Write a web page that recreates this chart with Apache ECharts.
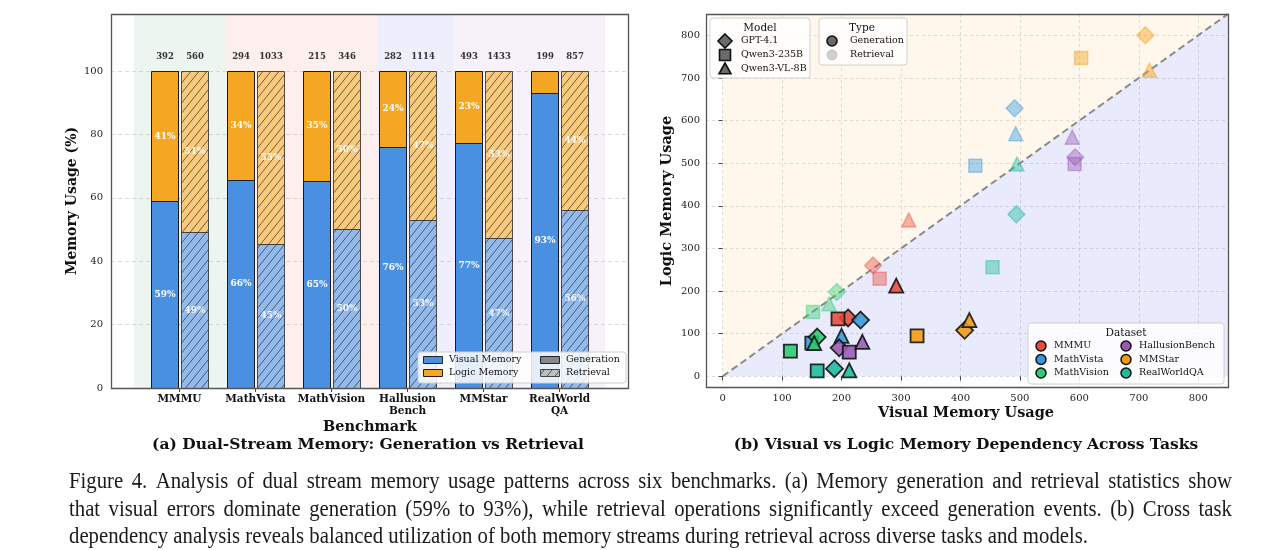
<!DOCTYPE html>
<html>
<head>
<meta charset="utf-8">
<script src="https://cdn.jsdelivr.net/npm/echarts@6.0.0/dist/echarts.min.js"></script>
<style>
  html, body { margin: 0; padding: 0; background: #fff; }
  #chart { width: 1280px; height: 550px; }
</style>
</head>
<body>
<div id="chart"></div>
<script>
// ---------- data: (a) dual-stream memory ----------
const benchmarks = ['MMMU', 'MathVista', 'MathVision', 'Hallusion\nBench', 'MMStar', 'RealWorld\nQA'];
const genVisualPct = [58.9, 65.6, 65.3, 76.0, 77.3, 93.0];   // generation, visual share
const retVisualPct = [49.1, 45.4, 50.1, 53.0, 47.2, 56.2];   // retrieval, visual share
const genCounts = [392, 294, 215, 282, 493, 199];
const retCounts = [560, 1033, 346, 1114, 1433, 857];
const regionSpans = [[-0.6, 0.6], [0.6, 2.6], [2.6, 3.6], [3.6, 5.6]];
const pctTicks = [0, 20, 40, 60, 80, 100];

// ---------- data: (b) visual vs logic ----------
const models = ['GPT-4.1', 'Qwen3-235B', 'Qwen3-VL-8B'];
const datasets = ['MMMU', 'MathVista', 'MathVision', 'HallusionBench', 'MMStar', 'RealWorldQA'];
// rows = datasets, cols = [GPT-4.1, Qwen3-235B, Qwen3-VL-8B]
const genVisual = [[211, 194, 292], [232, 150, 200], [159, 114, 154], [196, 213, 235], [407, 327, 415], [188, 159, 213]];
const genLogic  = [[137, 135, 213], [132, 78, 95],   [92, 59, 78],    [67, 57, 81],    [108, 95, 132],  [18, 13, 14]];
const retVisual = [[253, 264, 313], [491, 425, 493], [192, 152, 179], [593, 592, 588], [711, 603, 718], [494, 454, 495]];
const retLogic  = [[260, 229, 367], [629, 494, 569], [198, 151, 170], [514, 498, 561], [800, 747, 718], [380, 256, 498]];
const usageTicks = [0, 100, 200, 300, 400, 500, 600, 700, 800];

const captionLines = [
  'Figure 4.  Analysis of dual stream memory usage patterns across six benchmarks.  (a) Memory generation and retrieval statistics show',
  'that visual errors dominate generation (59% to 93%), while retrieval operations significantly exceed generation events.  (b) Cross task',
  'dependency analysis reveals balanced utilization of both memory streams during retrieval across diverse tasks and models.'
];

// ---------- styling ----------
const SERIF = '"DejaVu Serif", serif';
const BLUE = '#4a90e2';
const ORANGE = '#f5a623';
const regionColors = ['rgba(46,139,87,0.085)', 'rgba(231,76,60,0.09)', 'rgba(90,90,230,0.1)', 'rgba(155,89,182,0.08)'];
const dsColors = ['#e74c3c', '#3498db', '#2ecc71', '#9b59b6', '#f39c12', '#1abc9c'];
const modelSymbols = ['diamond', 'rect', 'triangle'];
const modelSizes = [17, 13, 14];
const BAR_W = 0.35, BAR_OFF = 0.2;
const LIM = 850;

// grids (pixel layout)
const GA = { left: 111, top: 14, width: 517, height: 374 };
const GB = { left: 706, top: 14, width: 522, height: 373 };

function makeHatch(bg, line) {
  const w = 8, h = 10;
  const c = document.createElement('canvas');
  c.width = w; c.height = h;
  const ctx = c.getContext('2d');
  ctx.fillStyle = bg;
  ctx.fillRect(0, 0, w, h);
  ctx.strokeStyle = line;
  ctx.lineWidth = 0.9;
  ctx.beginPath();
  for (let k = -1; k <= 1; k++) { ctx.moveTo(k * w, h); ctx.lineTo(k * w + w, 0); }
  ctx.stroke();
  return c;
}
const hatchBlue = makeHatch('rgb(146,186,236)', 'rgba(40,40,60,0.75)');
const hatchOrange = makeHatch('rgb(248,202,126)', 'rgba(60,40,20,0.75)');
const hatchGray = makeHatch('rgb(190,190,190)', 'rgba(40,40,40,0.75)');

// ---------- (a) bar rendering ----------
const barData = [];
benchmarks.forEach((b, i) => {
  barData.push([i, genVisualPct[i], 0, genCounts[i]]);
  barData.push([i, retVisualPct[i], 1, retCounts[i]]);
});

function pctText(x, y, v, alpha) {
  return {
    type: 'text', x: x, y: y,
    style: {
      text: Math.round(v) + '%', fill: 'rgba(255,255,255,' + alpha + ')',
      font: 'bold 9px ' + SERIF, align: 'center', verticalAlign: 'middle',
      textAlign: 'center', textVerticalAlign: 'middle'
    }
  };
}

function renderBar(params, api) {
  const i = api.value(0), vis = api.value(1), kind = api.value(2), n = api.value(3);
  const cx = i + (kind === 0 ? -BAR_OFF : BAR_OFF);
  const pBL = api.coord([cx - BAR_W / 2, 0]);
  const pTR = api.coord([cx + BAR_W / 2, 100]);
  const pS = api.coord([cx, vis]);
  const x0 = Math.round(pBL[0]) + 0.5, x1 = Math.round(pTR[0]) + 0.5;
  const yb = Math.round(pBL[1]) + 0.5, yt = Math.round(pTR[1]) + 0.5, ys = Math.round(pS[1]) + 0.5;
  const mx = (x0 + x1) / 2;
  const gen = kind === 0;
  const stroke = gen ? '#1a1a1a' : 'rgba(50,50,50,0.85)';
  const children = [
    { type: 'rect', shape: { x: x0, y: ys, width: x1 - x0, height: yb - ys },
      style: { fill: gen ? BLUE : { image: hatchBlue, repeat: 'repeat' }, stroke: stroke, lineWidth: 1 } },
    { type: 'rect', shape: { x: x0, y: yt, width: x1 - x0, height: ys - yt },
      style: { fill: gen ? ORANGE : { image: hatchOrange, repeat: 'repeat' }, stroke: stroke, lineWidth: 1 } }
  ];
  const a = gen ? 1 : 0.9;
  if (vis >= 10) children.push(pctText(mx, api.coord([cx, vis / 2])[1], vis, a));
  if (100 - vis >= 10) children.push(pctText(mx, api.coord([cx, (vis + 100) / 2])[1], 100 - vis, a));
  const pc = api.coord([cx, 104.6]);
  children.push({
    type: 'text', x: mx, y: pc[1],
    style: { text: String(n), fill: '#333', font: 'bold 8.5px ' + SERIF, align: 'center', verticalAlign: 'middle',
      textAlign: 'center', textVerticalAlign: 'middle' }
  });
  return { type: 'group', children: children };
}

function renderRegion(params, api) {
  const p0 = api.coord([api.value(0), 118]);
  const p1 = api.coord([api.value(1), 0]);
  return { type: 'rect', shape: { x: p0[0], y: p0[1], width: p1[0] - p0[0], height: p1[1] - p0[1] },
    style: { fill: regionColors[api.value(2)] } };
}

function renderHalves(params, api) {
  const lo = api.value(0), hi = api.value(1);
  const a = api.coord([lo, lo]), b = api.coord([lo, hi]), c = api.coord([hi, hi]), d = api.coord([hi, lo]);
  return { type: 'group', children: [
    { type: 'polygon', shape: { points: [a, b, c] }, style: { fill: 'rgba(255,160,40,0.085)' } },
    { type: 'polygon', shape: { points: [a, d, c] }, style: { fill: 'rgba(30,30,235,0.095)' } }
  ] };
}

// ---------- (b) scatter series ----------
const scatterSeries = [];
['ret', 'gen'].forEach(kind => {
  datasets.forEach((ds, d) => {
    const xs = kind === 'gen' ? genVisual[d] : retVisual[d];
    const ys = kind === 'gen' ? genLogic[d] : retLogic[d];
    scatterSeries.push({
      type: 'scatter', name: ds + ' ' + kind, xAxisIndex: 1, yAxisIndex: 1,
      z: kind === 'gen' ? 5 : 4,
      data: models.map((m, k) => ({ value: [xs[k], ys[k]], symbol: modelSymbols[k], symbolSize: modelSizes[k] })),
      itemStyle: kind === 'gen'
        ? { color: dsColors[d], opacity: 0.88, borderColor: '#111', borderWidth: 1.8 }
        : { color: dsColors[d], opacity: 0.42, borderColor: dsColors[d], borderWidth: 1.5 },
      emphasis: { disabled: true }
    });
  });
});

// ---------- graphic helpers ----------
function T(x, y, text, size, o) {
  o = o || {};
  return {
    type: 'text', x: x, y: y, z: 100, silent: true, rotation: o.rotation || 0, scaleX: o.scaleX || 1,
    style: {
      text: text, font: (o.bold ? 'bold ' : '') + size + 'px ' + (o.family || SERIF), fill: o.fill || '#111',
      align: o.align || 'left', verticalAlign: 'middle', textAlign: o.align || 'left', textVerticalAlign: 'middle'
    }
  };
}
function box(x, y, w, h) {
  return { type: 'rect', z: 90, silent: true, shape: { x: x, y: y, width: w, height: h, r: 3 },
    style: { fill: 'rgba(255,255,255,0.85)', stroke: '#d0d0d0', lineWidth: 1 } };
}
function marker(sym, cx, cy, s, fill, stroke, lw) {
  let shape, type;
  if (sym === 'diamond') { type = 'polygon'; shape = { points: [[cx, cy - s], [cx + s, cy], [cx, cy + s], [cx - s, cy]] }; }
  else if (sym === 'rect') { type = 'rect'; shape = { x: cx - s, y: cy - s, width: 2 * s, height: 2 * s }; }
  else if (sym === 'triangle') { type = 'polygon'; shape = { points: [[cx, cy - s], [cx + s, cy + s * 0.8], [cx - s, cy + s * 0.8]] }; }
  else { type = 'circle'; shape = { cx: cx, cy: cy, r: s }; }
  return { type: type, z: 95, silent: true, shape: shape, style: { fill: fill, stroke: stroke, lineWidth: lw } };
}

const graphics = [];
// frames
graphics.push({ type: 'rect', z: 80, silent: true, shape: { x: GA.left + 0.5, y: GA.top + 0.5, width: GA.width, height: GA.height }, style: { fill: 'none', stroke: '#555', lineWidth: 1.3 } });
graphics.push({ type: 'rect', z: 80, silent: true, shape: { x: GB.left + 0.5, y: GB.top + 0.5, width: GB.width, height: GB.height }, style: { fill: 'none', stroke: '#555', lineWidth: 1.3 } });

// (a) legend
graphics.push(box(418, 352, 208, 31));
graphics.push({ type: 'rect', z: 95, silent: true, shape: { x: 423.5, y: 356.5, width: 19, height: 7 }, style: { fill: BLUE, stroke: '#222', lineWidth: 1 } });
graphics.push({ type: 'rect', z: 95, silent: true, shape: { x: 423.5, y: 369.5, width: 19, height: 7 }, style: { fill: ORANGE, stroke: '#222', lineWidth: 1 } });
graphics.push({ type: 'rect', z: 95, silent: true, shape: { x: 540.5, y: 356.5, width: 19, height: 7 }, style: { fill: '#888', stroke: '#222', lineWidth: 1 } });
graphics.push({ type: 'rect', z: 95, silent: true, shape: { x: 540.5, y: 369.5, width: 19, height: 7 }, style: { fill: { image: hatchGray, repeat: 'repeat' }, stroke: '#444', lineWidth: 1 } });
graphics.push(T(449, 360, 'Visual Memory', 9.5));
graphics.push(T(449, 373, 'Logic Memory', 9.5));
graphics.push(T(566, 360, 'Generation', 9.5));
graphics.push(T(566, 373, 'Retrieval', 9.5));

// (a) titles
graphics.push(T(72, 201, 'Memory Usage (%)', 14, { bold: true, align: 'center', rotation: Math.PI / 2 }));
graphics.push(T(370, 427, 'Benchmark', 14.5, { bold: true, align: 'center' }));
graphics.push(T(368, 445, '(a) Dual-Stream Memory: Generation vs Retrieval', 15.5, { bold: true, align: 'center' }));

// (b) titles
graphics.push(T(667, 201, 'Logic Memory Usage', 14.5, { bold: true, align: 'center', rotation: Math.PI / 2 }));
graphics.push(T(966, 413, 'Visual Memory Usage', 14.5, { bold: true, align: 'center' }));
graphics.push(T(966, 445, '(b) Visual vs Logic Memory Dependency Across Tasks', 15.5, { bold: true, align: 'center' }));

// (b) Model legend
graphics.push(box(710, 18, 100, 60));
graphics.push(T(760, 28, 'Model', 10.5, { align: 'center' }));
models.forEach((m, k) => {
  const cy = 41 + k * 14;
  const s = [7, 5.5, 6][k];
  graphics.push(marker(modelSymbols[k], 725, cy, s, '#6b6b6b', '#111', 1.6));
  graphics.push(T(741, cy, m, 9.5));
});
// (b) Type legend
graphics.push(box(819, 18, 88, 47));
graphics.push(T(862, 28, 'Type', 10.5, { align: 'center' }));
graphics.push(marker('circle', 832, 41, 5, '#6b6b6b', '#111', 1.6));
graphics.push(marker('circle', 832, 55, 5, 'rgba(150,150,150,0.45)', 'rgba(150,150,150,0.45)', 1));
graphics.push(T(850, 41, 'Generation', 9.5));
graphics.push(T(850, 55, 'Retrieval', 9.5));
// (b) Dataset legend
graphics.push(box(1028, 323, 196, 61));
graphics.push(T(1126, 333, 'Dataset', 10.5, { align: 'center' }));
datasets.forEach((ds, d) => {
  const col = d < 3 ? 0 : 1;
  const row = d % 3;
  const cx = col === 0 ? 1041 : 1126;
  const cy = 346 + row * 13.5;
  graphics.push(marker('circle', cx, cy, 5, dsColors[d], '#111', 1.5));
  graphics.push(T(cx + 13, cy, ds, 9.5));
});

// caption: condensed Times-like face, justified like the paper text
(function () {
  const ctx = document.createElement('canvas').getContext('2d');
  const fam = '"Liberation Serif", "Times New Roman", serif';
  const fs = 23;
  ctx.font = fs + 'px ' + fam;
  const w3 = ctx.measureText(captionLines[2]).width;
  const sx = 1019 / w3;
  const left = 69, right = 1232, ys = [482, 509.5, 537];
  captionLines.forEach((line, li) => {
    if (li === 2) { graphics.push(T(left, ys[li], line, fs, { family: fam, fill: '#1a1a1a', scaleX: sx })); return; }
    const words = line.split(/\s+/);
    const widths = words.map(w => ctx.measureText(w).width * sx);
    const total = widths.reduce((a, b) => a + b, 0);
    const gap = (right - left - total) / (words.length - 1);
    let x = left;
    words.forEach((w, k) => {
      graphics.push(T(x, ys[li], w, fs, { family: fam, fill: '#1a1a1a', scaleX: sx }));
      x += widths[k] + gap;
    });
  });
})();

// ---------- option ----------
const axisLabelBase = { color: '#222', fontFamily: SERIF, fontSize: 10 };
const option = {
  animation: false,
  textStyle: { fontFamily: SERIF },
  grid: [
    { left: GA.left, top: GA.top, width: GA.width, height: GA.height },
    { left: GB.left, top: GB.top, width: GB.width, height: GB.height }
  ],
  xAxis: [
    {
      gridIndex: 0, type: 'value', min: -0.9, max: 5.9,
      axisLine: { show: false }, splitLine: { show: false },
      axisTick: { show: true, customValues: [0, 1, 2, 3, 4, 5], length: 4, lineStyle: { color: '#444' } },
      axisLabel: Object.assign({}, axisLabelBase, {
        customValues: [0, 1, 2, 3, 4, 5], margin: 5, fontWeight: 'bold', fontSize: 10.5, lineHeight: 12, color: '#111',
        formatter: v => benchmarks[Math.round(v)] || ''
      })
    },
    {
      gridIndex: 1, type: 'value', min: -28, max: LIM, splitNumber: 9,
      axisLine: { show: false },
      axisTick: { show: true, customValues: usageTicks, length: 4, lineStyle: { color: '#444' } },
      axisLabel: Object.assign({}, axisLabelBase, { customValues: usageTicks, margin: 6 }),
      splitLine: { show: true, lineStyle: { color: '#d6d6d6', type: [3, 3], width: 0.8 } }
    }
  ],
  yAxis: [
    {
      gridIndex: 0, type: 'value', min: 0, max: 118, interval: 20,
      axisLine: { show: false },
      axisTick: { show: true, customValues: pctTicks, length: 5, lineStyle: { color: '#444' } },
      axisLabel: Object.assign({}, axisLabelBase, { customValues: pctTicks, margin: 8 }),
      splitLine: { show: true, lineStyle: { color: '#d6d6d6', type: [4, 3], width: 0.8 } }
    },
    {
      gridIndex: 1, type: 'value', min: -25, max: LIM, splitNumber: 9,
      axisLine: { show: false },
      axisTick: { show: true, customValues: usageTicks, length: 4, lineStyle: { color: '#444' } },
      axisLabel: Object.assign({}, axisLabelBase, { customValues: usageTicks, margin: 6 }),
      splitLine: { show: true, lineStyle: { color: '#d6d6d6', type: [3, 3], width: 0.8 } }
    }
  ],
  series: [
    { type: 'custom', name: 'regions', xAxisIndex: 0, yAxisIndex: 0, z: 1, silent: true,
      renderItem: renderRegion, data: regionSpans.map((s, k) => [s[0], s[1], k]) },
    { type: 'custom', name: 'bars', xAxisIndex: 0, yAxisIndex: 0, z: 3, silent: true,
      renderItem: renderBar, data: barData },
    { type: 'custom', name: 'halves', xAxisIndex: 1, yAxisIndex: 1, z: 1, silent: true,
      renderItem: renderHalves, data: [[0, LIM]] },
    { type: 'line', name: 'parity', xAxisIndex: 1, yAxisIndex: 1, z: 2, silent: true, symbol: 'none',
      data: [[0, 0], [LIM, LIM]], lineStyle: { color: '#8a8a8a', width: 2, type: [7, 4] } }
  ].concat(scatterSeries),
  graphic: graphics
};

const chart = echarts.init(document.getElementById('chart'));
chart.setOption(option);
</script>
</body>
</html>
